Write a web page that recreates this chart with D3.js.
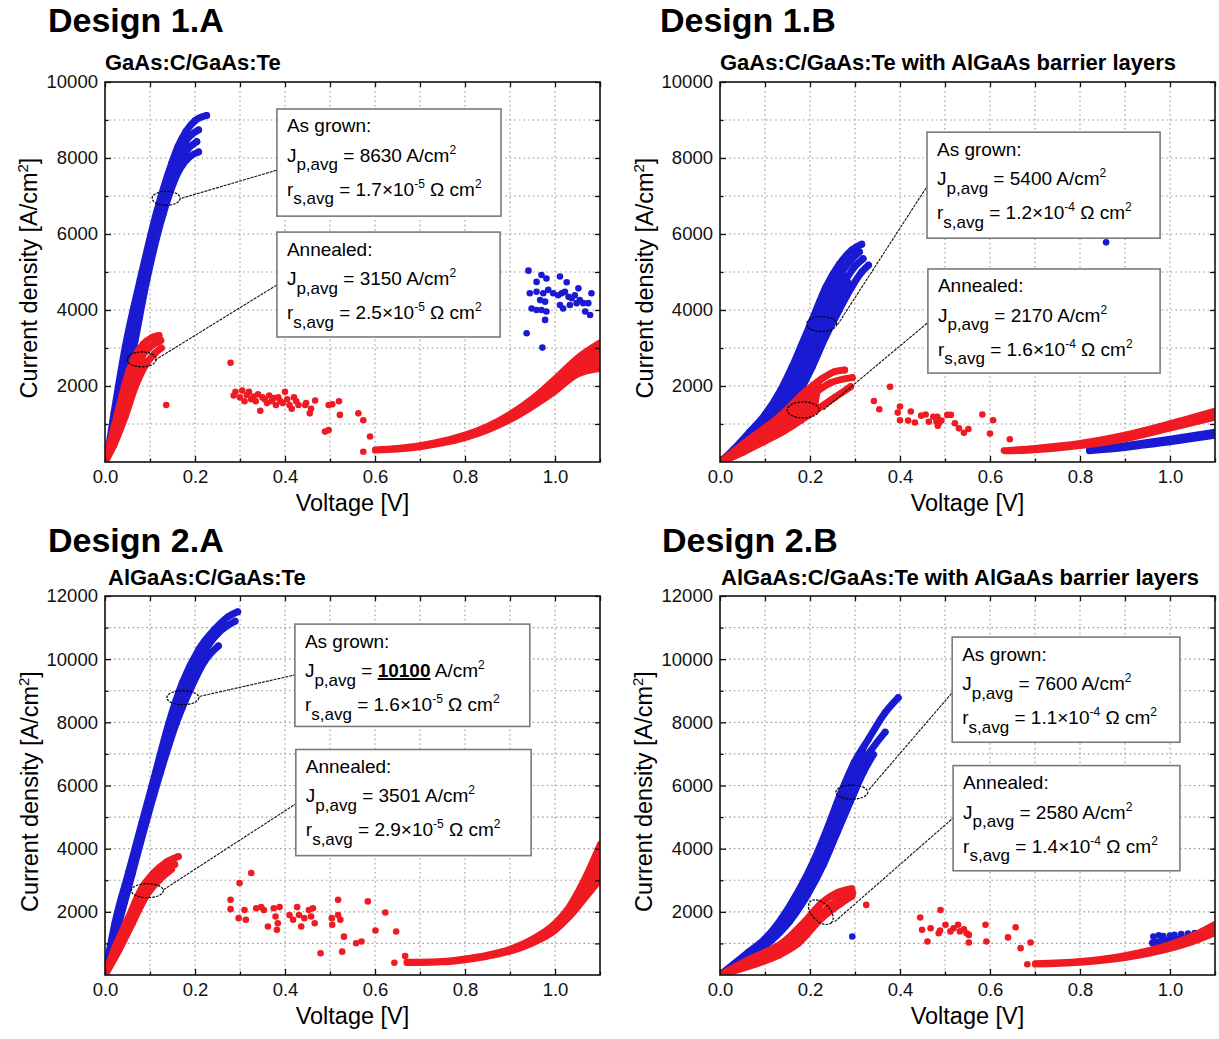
<!DOCTYPE html>
<html><head><meta charset="utf-8">
<script src="https://cdn.jsdelivr.net/npm/d3@7"></script>
<style>body{margin:0;background:#fff}svg{display:block}text{font-family:"Liberation Sans",Arial,sans-serif}</style>
</head><body>
<svg id="chart" width="1219" height="1039"></svg>
<script>
// ---------- tick labels / text ----------
const xTicks = [0.0, 0.2, 0.4, 0.6, 0.8, 1.0];
const xMinor = [0.1, 0.3, 0.5, 0.7, 0.9, 1.1];
const xGrid = [0.1, 0.2, 0.3, 0.4, 0.5, 0.6, 0.7, 0.8, 0.9, 1.0];
const yTicks10k = [2000, 4000, 6000, 8000, 10000];
const yMinor10k = [1000, 3000, 5000, 7000, 9000];
const yGrid10k = [1000, 2000, 3000, 4000, 5000, 6000, 7000, 8000, 9000];
const yTicks12k = [2000, 4000, 6000, 8000, 10000, 12000];
const yMinor12k = [1000, 3000, 5000, 7000, 9000, 11000];
const yGrid12k = [1000, 2000, 3000, 4000, 5000, 6000, 7000, 8000, 9000, 10000, 11000];
const titles = ["Design 1.A", "Design 1.B", "Design 2.A", "Design 2.B"];
const subtitles = ["GaAs:C/GaAs:Te", "GaAs:C/GaAs:Te with AlGaAs barrier layers",
                   "AlGaAs:C/GaAs:Te", "AlGaAs:C/GaAs:Te with AlGaAs barrier layers"];
const boxHeads = ["As grown:", "Annealed:"];
const jpGrown = ["8630", "5400", "10100", "7600"];
const jpAnnealed = ["3150", "2170", "3501", "2580"];
const rsGrown = [["1.7", "-5"], ["1.2", "-4"], ["1.6", "-5"], ["1.1", "-4"]];
const rsAnnealed = [["2.5", "-5"], ["1.6", "-4"], ["2.9", "-5"], ["1.4", "-4"]];
const jpHighlight = [false, false, true, false];

// ---------- data: [Voltage V, current density A/cm2] ----------
// Design 1.A
const grown1A = [
  [[0,0],[0.008,400],[0.02,1290],[0.045,3030],[0.078,4790],[0.114,6550],[0.148,7860],[0.162,8300],[0.18,8700],[0.2,8980],[0.226,9120]],
  [[0,0],[0.012,500],[0.03,1600],[0.053,3030],[0.085,4790],[0.12,6550],[0.155,7800],[0.18,8450],[0.208,8740]],
  [[0,0],[0.015,550],[0.035,1650],[0.058,3000],[0.09,4790],[0.126,6550],[0.16,7750],[0.185,8250],[0.204,8430]],
  [[0,0],[0.018,600],[0.04,1700],[0.062,2900],[0.093,4790],[0.13,6550],[0.166,7700],[0.19,8050],[0.208,8160]]
];
const annealed1A = [
  [[0,0],[0.01,450],[0.028,1290],[0.047,2160],[0.065,2750],[0.085,3100],[0.105,3280],[0.12,3330]],
  [[0,0],[0.015,450],[0.037,1290],[0.058,2160],[0.078,2700],[0.098,3000],[0.116,3150],[0.124,3200]],
  [[0,0],[0.02,450],[0.045,1200],[0.068,2000],[0.09,2550],[0.11,2850],[0.125,3000]]
];
// high-voltage bands: [V, J lower edge, J upper edge]
const annealedBand1A = [[0.6,300,330],[0.65,330,370],[0.7,390,440],[0.75,490,560],[0.8,630,720],[0.85,830,950],
  [0.9,1100,1270],[0.95,1450,1680],[1.0,1850,2200],[1.05,2300,2750],[1.1,2450,3150]];
const grownBand1A = [];
const annealedScatter1A = [
  [0.136,1500],[0.279,2610],[0.286,1750],[0.29,1850],[0.30,1700],[0.305,1880],[0.31,1600],[0.315,1760],
  [0.32,1850],[0.325,1650],[0.33,1720],[0.335,1600],[0.34,1780],[0.345,1350],[0.35,1700],[0.355,1650],
  [0.36,1550],[0.365,1750],[0.37,1600],[0.375,1680],[0.38,1500],[0.385,1700],[0.39,1600],[0.395,1550],
  [0.40,1850],[0.405,1650],[0.41,1500],[0.415,1400],[0.42,1700],[0.425,1600],[0.43,1500],[0.445,1500],
  [0.447,1550],[0.455,1280],[0.458,1400],[0.467,1620],[0.489,800],[0.497,840],[0.497,1500],[0.505,1520],
  [0.52,1600],[0.522,1240],[0.563,1280],[0.574,1100],[0.589,670],[0.574,270]
];
const grownScatter1A = [
  [0.941,5035],[0.970,4920],[0.981,4830],[1.011,4880],[1.026,4730],[1.052,4570],[0.959,4740],[0.944,4440],
  [0.959,4480],[0.974,4440],[0.985,4530],[0.996,4440],[1.007,4390],[1.015,4440],[1.022,4480],[1.030,4350],
  [1.037,4310],[1.044,4390],[1.055,4260],[1.063,4180],[1.074,4180],[1.081,4440],[0.967,4260],[0.978,4220],
  [0.948,4040],[0.959,4000],[0.970,4000],[0.981,3960],[1.011,4130],[1.018,4040],[1.033,4130],[1.048,4180],
  [1.067,3960],[1.078,3870],[0.978,3740],[0.937,3390],[0.972,3010]
];
// Design 1.B
const grown1B = [
  [[0,0],[0.03,330],[0.065,780],[0.1,1250],[0.135,1900],[0.16,2500],[0.18,3050],[0.205,3750],[0.235,4600],[0.265,5200],[0.293,5580],[0.315,5730]],
  [[0,0],[0.04,350],[0.08,850],[0.12,1450],[0.15,2050],[0.18,2750],[0.205,3400],[0.23,4100],[0.26,4800],[0.29,5300],[0.31,5530]],
  [[0,0],[0.048,330],[0.092,820],[0.135,1400],[0.17,2050],[0.2,2750],[0.222,3350],[0.245,4000],[0.275,4700],[0.3,5150],[0.318,5350]],
  [[0,0],[0.055,300],[0.105,700],[0.155,1400],[0.205,2500],[0.235,3300],[0.265,4000],[0.295,4650],[0.315,5000],[0.33,5180]]
];
const annealed1B = [
  [[0,0],[0.03,270],[0.065,600],[0.1,900],[0.135,1230],[0.18,1750],[0.225,2180],[0.255,2380],[0.277,2420]],
  [[0,0],[0.04,270],[0.08,580],[0.12,930],[0.16,1320],[0.2,1720],[0.245,2080],[0.294,2220]],
  [[0,0],[0.05,250],[0.1,550],[0.14,800],[0.18,1100],[0.215,1380],[0.255,1700],[0.29,1980]]
];
const annealedBand1B = [[0.635,280,310],[0.7,310,370],[0.8,420,500],[0.9,600,720],[1.0,880,1020],[1.1,1170,1350]];
const grownBand1B = [[0.82,285,320],[0.9,370,440],[1.0,520,610],[1.1,690,800]];
const annealedScatter1B = [
  [0.378,1980],[0.342,1605],[0.354,1390],[0.395,1300],[0.4,1460],[0.4,1100],[0.418,1090],[0.424,1330],
  [0.433,1040],[0.447,1220],[0.457,1250],[0.464,1060],[0.474,1190],[0.483,1190],[0.481,1060],[0.487,1035],
  [0.484,955],[0.492,1090],[0.505,1240],[0.513,1240],[0.522,1020],[0.531,885],[0.542,770],[0.552,870],
  [0.583,1250],[0.607,1100],[0.6,750],[0.644,600],[0.631,300]
];
const grownScatter1B = [[0.858,5780]];
// Design 2.A
const grown2A = [
  [[0,0],[0.022,1640],[0.052,3230],[0.082,4820],[0.112,6400],[0.142,7990],[0.172,9260],[0.208,10300],[0.244,10950],[0.274,11350],[0.295,11500]],
  [[0,0],[0.027,1640],[0.057,3230],[0.087,4820],[0.118,6400],[0.151,7990],[0.182,9150],[0.215,10100],[0.25,10800],[0.289,11200]],
  [[0,0],[0.031,1640],[0.061,3230],[0.091,4820],[0.123,6400],[0.159,7990],[0.19,9050],[0.222,9950],[0.252,10420]]
];
const annealed2A = [
  [[0,0],[0.02,800],[0.05,1750],[0.08,2700],[0.108,3230],[0.137,3580],[0.163,3750]],
  [[0,0],[0.026,790],[0.056,1700],[0.086,2580],[0.115,3100],[0.14,3400],[0.155,3500]],
  [[0,0],[0.031,790],[0.061,1640],[0.091,2490],[0.12,3000],[0.148,3350]]
];
const annealedBand2A = [[0.67,380,420],[0.7,380,420],[0.75,400,440],[0.8,470,520],[0.85,580,640],[0.9,740,830],
  [0.95,1000,1150],[1.0,1400,1650],[1.03,1800,2150],[1.06,2300,2900],[1.08,2650,3500],[1.1,3000,4150]];
const grownBand2A = [];
const annealedScatter2A = [
  [0.299,2910],[0.325,3230],[0.279,2380],[0.279,2085],[0.297,1800],[0.310,2060],[0.313,1750],[0.336,2115],
  [0.347,2150],[0.353,2060],[0.362,1535],[0.375,2115],[0.379,1850],[0.384,1640],[0.382,1430],[0.388,2150],
  [0.41,1900],[0.418,1750],[0.427,2150],[0.431,1900],[0.436,1535],[0.443,1800],[0.453,2060],[0.458,1850],
  [0.462,2115],[0.466,1640],[0.479,690],[0.504,1800],[0.505,1590],[0.518,2380],[0.518,1900],[0.523,1750],
  [0.527,740],[0.531,1215],[0.558,1005],[0.570,1060],[0.584,2330],[0.601,1410],[0.623,1980],[0.647,1375],
  [0.643,390],[0.667,600]
];
const grownScatter2A = [];
// Design 2.B
const grown2B = [
  [[0,0],[0.063,720],[0.1,1150],[0.137,1800],[0.174,2650],[0.211,3700],[0.24,4700],[0.268,5750],[0.298,6720],[0.33,7470],[0.367,8310],[0.396,8780]],
  [[0,0],[0.068,680],[0.108,1120],[0.145,1750],[0.185,2600],[0.22,3600],[0.25,4600],[0.28,5600],[0.305,6400],[0.335,7100],[0.367,7690]],
  [[0,0],[0.072,640],[0.115,1100],[0.155,1700],[0.195,2550],[0.23,3500],[0.26,4500],[0.29,5500],[0.318,6400],[0.341,6980]]
];
const annealed2B = [
  [[0,0],[0.063,480],[0.1,720],[0.137,1000],[0.189,1700],[0.226,2280],[0.263,2620],[0.293,2730]],
  [[0,0],[0.07,420],[0.12,700],[0.174,1150],[0.21,1700],[0.245,2200],[0.27,2450],[0.295,2600]],
  [[0,0],[0.08,350],[0.13,620],[0.174,1000],[0.226,1800],[0.27,2280],[0.293,2490]]
];
const annealedBand2B = [[0.7,330,370],[0.8,390,440],[0.9,540,630],[1.0,830,980],[1.05,1040,1250],[1.1,1320,1620]];
const grownBand2B = [[0.96,1000,1040],[1.0,1080,1120],[1.05,1180,1220],[1.1,1330,1370]];
const annealedScatter2B = [
  [0.325,2220],[0.445,1820],[0.49,2060],[0.449,1430],[0.468,1480],[0.461,1060],[0.486,1320],[0.489,1410],
  [0.501,1590],[0.512,1380],[0.519,1480],[0.529,1590],[0.533,1380],[0.542,1450],[0.548,1320],[0.553,1030],
  [0.553,1270],[0.59,1590],[0.592,1060],[0.64,1190],[0.657,1510],[0.668,850],[0.69,1030],[0.683,340]
];
const grownScatter2B = [
  [0.294,1220],[0.963,1220],[0.975,1260],[0.985,1230],[1.0,1250],[1.01,1270],[1.025,1300],[1.04,1310],
  [1.055,1330],[1.07,1360],[1.085,1380]
];

// ---------- annotations (data coordinates) ----------
const boxesGrown = [[0.382,9290,0.88,6470],[0.46,8680,0.978,5890],[0.422,11110,0.944,7870],[0.516,10700,1.022,7370]];
const boxesAnnealed = [[0.382,6050,0.878,3290],[0.462,5080,0.978,2340],[0.424,7140,0.947,3780],[0.518,6630,1.022,3300]];
const ellipsesGrown = [[0.136,6940],[0.226,3630],[0.173,8780],[0.293,5790]];
const ellipsesAnnealed = [[0.0815,2700],[0.185,1370],[0.094,2670],[0.224,1990]];
const leadersGrown = [[[0.17,6940],[0.382,7680]],[[0.261,3610],[0.46,7250]],[[0.21,8820],[0.422,9500]],[[0.331,5870],[0.516,8940]]];
const leadersAnnealed = [[[0.111,2680],[0.382,4660]],[[0.23,1370],[0.462,3670]],[[0.13,2700],[0.424,5420]],[[0.255,1690],[0.518,4970]]];

// ---------- layout ----------
const BLUE = "#1a1ad2", RED = "#f01a22";
const panels = [
  {left:105, right:600, top:82, bottom:462, yMax:10000, yT:yTicks10k, yM:yMinor10k, yG:yGrid10k, tx:48, ty:32, sx:105, sy:70, lx:29,
   grown:grown1A, ann:annealed1A, annBand:annealedBand1A, grBand:grownBand1A, annSc:annealedScatter1A, grSc:grownScatter1A, ell:[[14,7,0],[14.5,7.5,0]]},
  {left:720, right:1215, top:82, bottom:462, yMax:10000, yT:yTicks10k, yM:yMinor10k, yG:yGrid10k, tx:660, ty:32, sx:720, sy:70, lx:645,
   grown:grown1B, ann:annealed1B, annBand:annealedBand1B, grBand:grownBand1B, annSc:annealedScatter1B, grSc:grownScatter1B, ell:[[15,7.5,0],[16,8,0]]},
  {left:105, right:600, top:596, bottom:975, yMax:12000, yT:yTicks12k, yM:yMinor12k, yG:yGrid12k, tx:48, ty:552, sx:108, sy:585, lx:30,
   grown:grown2A, ann:annealed2A, annBand:annealedBand2A, grBand:grownBand2A, annSc:annealedScatter2A, grSc:grownScatter2A, ell:[[16,7,0],[16,7,0]]},
  {left:720, right:1215, top:596, bottom:975, yMax:12000, yT:yTicks12k, yM:yMinor12k, yG:yGrid12k, tx:662, ty:552, sx:721, sy:585, lx:644,
   grown:grown2B, ann:annealed2B, annBand:annealedBand2B, grBand:grownBand2B, annSc:annealedScatter2B, grSc:grownScatter2B, ell:[[16,7,0],[15,9,45]]}
];

const svg = d3.select("#chart");
const defs = svg.append("defs");

panels.forEach((p, i) => {
  const x = d3.scaleLinear().domain([0, 1.1]).range([p.left, p.right]);
  const y = d3.scaleLinear().domain([0, p.yMax]).range([p.bottom, p.top]);
  const g = svg.append("g");
  const clipId = "clip" + i;
  defs.append("clipPath").attr("id", clipId).append("rect")
    .attr("x", p.left).attr("y", p.top).attr("width", p.right - p.left).attr("height", p.bottom - p.top);

  // titles
  g.append("text").attr("x", p.tx).attr("y", p.ty).attr("font-size", 34).attr("font-weight", "bold").text(titles[i]);
  g.append("text").attr("x", p.sx).attr("y", p.sy).attr("font-size", 22).attr("font-weight", "bold").text(subtitles[i]);

  // grid
  const grid = g.append("g").attr("stroke", "#9a9a9a").attr("stroke-width", 1.1).attr("stroke-dasharray", "1.6,3");
  grid.selectAll(".gx").data(xGrid).join("line")
    .attr("x1", d => x(d)).attr("x2", d => x(d)).attr("y1", p.top).attr("y2", p.bottom);
  grid.selectAll(".gy").data(p.yG).join("line")
    .attr("y1", d => y(d)).attr("y2", d => y(d)).attr("x1", p.left).attr("x2", p.right);

  // data
  const plot = g.append("g").attr("clip-path", `url(#${clipId})`);
  const line = d3.line().x(d => x(d[0])).y(d => y(d[1])).curve(d3.curveMonotoneX);
  const poly = d3.line().x(d => x(d[0])).y(d => y(d[1]));
  const area = d3.area().x(d => x(d[0])).y0(d => y(d[1])).y1(d => y(d[2])).curve(d3.curveMonotoneX);
  const drawCurves = (curves, color, w) => {
    if (curves.length > 1) {
      const a = curves[0].slice(0, -2), b = curves[curves.length - 1].slice(0, -2).reverse();
      plot.append("path").attr("d", poly(a.concat(b)) + "Z").attr("fill", color).attr("stroke", color)
        .attr("stroke-width", 2).attr("stroke-linejoin", "round");
    }
    plot.append("g").selectAll("path").data(curves).join("path")
      .attr("d", line).attr("fill", "none").attr("stroke", color)
      .attr("stroke-width", w).attr("stroke-linecap", "round").attr("stroke-linejoin", "round");
    plot.append("g").selectAll("circle").data(curves.flat()).join("circle")
      .attr("cx", d => x(d[0])).attr("cy", d => y(d[1])).attr("r", 3.4).attr("fill", color);
  };
  const drawBand = (band, color) => {
    if (!band.length) return;
    plot.append("path").datum(band).attr("d", area).attr("fill", color).attr("stroke", color)
      .attr("stroke-width", 6).attr("stroke-linejoin", "round").attr("stroke-linecap", "round");
  };
  const drawScatter = (pts, color) => {
    plot.append("g").selectAll("circle").data(pts).join("circle")
      .attr("cx", d => x(d[0])).attr("cy", d => y(d[1])).attr("r", 3.3).attr("fill", color);
  };
  drawCurves(p.grown, BLUE, 7);
  drawBand(p.grBand, BLUE);
  drawScatter(p.grSc, BLUE);
  drawCurves(p.ann, RED, 7);
  drawBand(p.annBand, RED);
  drawScatter(p.annSc, RED);

  // frame
  g.append("rect").attr("x", p.left).attr("y", p.top).attr("width", p.right - p.left).attr("height", p.bottom - p.top)
    .attr("fill", "none").attr("stroke", "#111").attr("stroke-width", 1.6);

  // axes (inward ticks)
  const fmt = d3.format(".1f");
  g.append("g").attr("transform", `translate(0,${p.bottom})`)
    .call(d3.axisBottom(x).tickValues(xTicks).tickFormat(fmt).tickSizeInner(-6).tickSizeOuter(0).tickPadding(8));
  g.append("g").attr("transform", `translate(0,${p.bottom})`)
    .call(d3.axisBottom(x).tickValues(xMinor).tickFormat("").tickSizeInner(-3.5).tickSizeOuter(0));
  g.append("g").attr("transform", `translate(0,${p.top})`)
    .call(d3.axisTop(x).tickValues(xTicks.concat(xMinor)).tickFormat("").tickSizeInner(-5).tickSizeOuter(0));
  g.append("g").attr("transform", `translate(${p.left},0)`)
    .call(d3.axisLeft(y).tickValues(p.yT).tickFormat(d3.format("d")).tickSizeInner(-6).tickSizeOuter(0).tickPadding(7));
  g.append("g").attr("transform", `translate(${p.left},0)`)
    .call(d3.axisLeft(y).tickValues(p.yM).tickFormat("").tickSizeInner(-3.5).tickSizeOuter(0));
  g.append("g").attr("transform", `translate(${p.right},0)`)
    .call(d3.axisRight(y).tickValues(p.yT.concat(p.yM)).tickFormat("").tickSizeInner(-5).tickSizeOuter(0));
  g.selectAll(".domain").remove();
  g.selectAll(".tick line").attr("stroke", "#111").attr("stroke-width", 1.3);
  g.selectAll(".tick text").attr("font-size", 18.5).attr("fill", "#111")
    .attr("font-family", '"Liberation Sans",Arial,sans-serif');

  // axis titles
  g.append("text").attr("x", (p.left + p.right) / 2).attr("y", p.bottom + 49).attr("text-anchor", "middle")
    .attr("font-size", 23.5).text("Voltage [V]");
  const yl = g.append("text").attr("transform", `translate(${p.lx},${(p.top + p.bottom) / 2 + 6}) rotate(-90)`)
    .attr("text-anchor", "middle").attr("font-size", 23.5).attr("dy", "0.35em");
  yl.append("tspan").text("Current density [A/cm");
  yl.append("tspan").attr("font-size", 15).attr("dy", -9).text("2");
  yl.append("tspan").attr("dy", 9).text("]");

  // annotations
  const ann = g.append("g");
  const drawAnn = (ellC, ell, lead) => {
    ann.append("ellipse").attr("cx", x(ellC[0])).attr("cy", y(ellC[1])).attr("rx", ell[0]).attr("ry", ell[1])
      .attr("transform", `rotate(${ell[2]},${x(ellC[0])},${y(ellC[1])})`)
      .attr("fill", "none").attr("stroke", "#000").attr("stroke-width", 1.2).attr("stroke-dasharray", "2.5,1.2");
    ann.append("line").attr("x1", x(lead[0][0])).attr("y1", y(lead[0][1])).attr("x2", x(lead[1][0])).attr("y2", y(lead[1][1]))
      .attr("stroke", "#111").attr("stroke-width", 1.1).attr("stroke-dasharray", "3,1");
  };
  drawAnn(ellipsesGrown[i], p.ell[0], leadersGrown[i]);
  drawAnn(ellipsesAnnealed[i], p.ell[1], leadersAnnealed[i]);

  const drawBox = (b, head, jp, rs, bold) => {
    const bx = x(b[0]), by = y(b[1]), bw = x(b[2]) - x(b[0]), bh = y(b[3]) - y(b[1]);
    ann.append("rect").attr("x", bx).attr("y", by).attr("width", bw).attr("height", bh)
      .attr("fill", "#fff").attr("stroke", "#7a7a7a").attr("stroke-width", 1.6);
    const tx = bx + 10;
    ann.append("text").attr("x", tx).attr("y", by + 23.5).attr("font-size", 19).text(head);
    const t2 = ann.append("text").attr("x", tx).attr("y", by + 53).attr("font-size", 19);
    t2.append("tspan").text("J");
    t2.append("tspan").attr("dy", 8.5).attr("font-size", 17).text("p,avg");
    t2.append("tspan").attr("dy", -8.5).text(" = ");
    const v = t2.append("tspan").text(jp);
    if (bold) v.attr("font-weight", "bold").attr("text-decoration", "underline");
    t2.append("tspan").text(" A/cm");
    t2.append("tspan").attr("dy", -8).attr("font-size", 12).text("2");
    const t3 = ann.append("text").attr("x", tx).attr("y", by + 87).attr("font-size", 19);
    t3.append("tspan").text("r");
    t3.append("tspan").attr("dy", 8.5).attr("font-size", 17).text("s,avg");
    t3.append("tspan").attr("dy", -8.5).text(" = " + rs[0] + "\u00d710");
    t3.append("tspan").attr("dy", -8).attr("font-size", 12).text(rs[1]);
    t3.append("tspan").attr("dy", 8).text(" \u03a9 cm");
    t3.append("tspan").attr("dy", -8).attr("font-size", 12).text("2");
  };
  drawBox(boxesGrown[i], boxHeads[0], jpGrown[i], rsGrown[i], jpHighlight[i]);
  drawBox(boxesAnnealed[i], boxHeads[1], jpAnnealed[i], rsAnnealed[i], false);
});
</script>
</body></html>
